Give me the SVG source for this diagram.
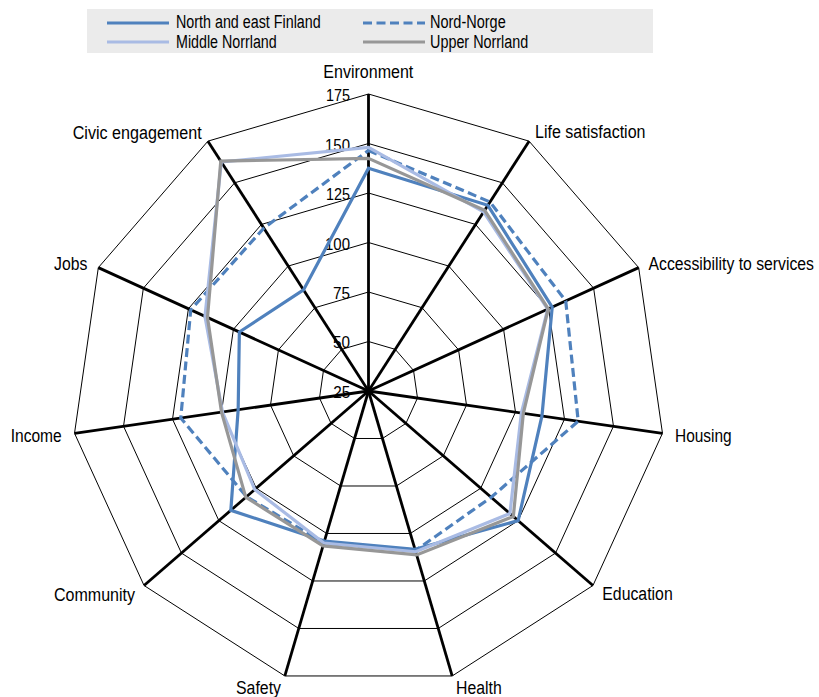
<svg xmlns="http://www.w3.org/2000/svg" width="819" height="697" viewBox="0 0 819 697">
<style>
text{font-family:"Liberation Sans Narrow","Liberation Sans",Arial,sans-serif;font-size:18px;fill:#000}
.num{font-size:17px}
.spoke{stroke:#000;stroke-width:2.8}
.s{fill:none;stroke-width:3.2;stroke-linejoin:miter}
.nef{stroke:#4F81BD}
.nn{stroke:#4F81BD;stroke-dasharray:9,4.5}
.mn{stroke:#A9BBE4}
.un{stroke:#979797}
</style>
<defs>
<polygon id="u" fill="none" stroke="#000" stroke-width="1" vector-effect="non-scaling-stroke" points="0,-100 54.064,-84.125 90.963,-41.542 98.982,14.231 75.575,65.486 28.173,95.949 -28.173,95.949 -75.575,65.486 -98.982,14.231 -90.963,-41.542 -54.064,-84.125"/>
</defs>
<rect x="0" y="0" width="819" height="697" fill="#fff"/>
<g id="legend">
<rect x="87" y="9" width="566" height="44" fill="#EBEBEB"/>
<line class="s nef" x1="107" y1="23" x2="169" y2="23"/>
<line class="s mn" x1="107" y1="42" x2="169" y2="42"/>
<line class="s nn" x1="363" y1="23" x2="425" y2="23"/>
<line class="s un" x1="363" y1="42" x2="425" y2="42"/>
<text x="176" y="28.3" textLength="144.7" lengthAdjust="spacingAndGlyphs">North and east Finland</text>
<text x="176" y="48.3" textLength="100.7" lengthAdjust="spacingAndGlyphs">Middle Norrland</text>
<text x="430" y="28.3" textLength="75.7" lengthAdjust="spacingAndGlyphs">Nord-Norge</text>
<text x="430" y="48.3" textLength="98.3" lengthAdjust="spacingAndGlyphs">Upper Norrland</text>
</g>
<g id="grid" transform="translate(368.5,391)">
<use href="#u" transform="scale(0.495)"/>
<use href="#u" transform="scale(0.99)"/>
<use href="#u" transform="scale(1.485)"/>
<use href="#u" transform="scale(1.98)"/>
<use href="#u" transform="scale(2.475)"/>
<use href="#u" transform="scale(2.97)"/>
<g id="spokes">
<line class="spoke" x1="0" y1="0" x2="0" y2="-297"/>
<line class="spoke" x1="0" y1="0" x2="160.57" y2="-249.85"/>
<line class="spoke" x1="0" y1="0" x2="270.16" y2="-123.38"/>
<line class="spoke" x1="0" y1="0" x2="293.98" y2="42.27"/>
<line class="spoke" x1="0" y1="0" x2="224.46" y2="194.49"/>
<line class="spoke" x1="0" y1="0" x2="83.67" y2="284.97"/>
<line class="spoke" x1="0" y1="0" x2="-83.67" y2="284.97"/>
<line class="spoke" x1="0" y1="0" x2="-224.46" y2="194.49"/>
<line class="spoke" x1="0" y1="0" x2="-293.98" y2="42.27"/>
<line class="spoke" x1="0" y1="0" x2="-270.16" y2="-123.38"/>
<line class="spoke" x1="0" y1="0" x2="-160.57" y2="-249.85"/>
</g>
</g>
<g id="scale">
<text class="num" x="326" y="100.8" textLength="24" lengthAdjust="spacingAndGlyphs">175</text>
<text class="num" x="325" y="151" textLength="25" lengthAdjust="spacingAndGlyphs">150</text>
<text class="num" x="326" y="200" textLength="24" lengthAdjust="spacingAndGlyphs">125</text>
<text class="num" x="325" y="249.5" textLength="25" lengthAdjust="spacingAndGlyphs">100</text>
<text class="num" x="333" y="298.5" textLength="17" lengthAdjust="spacingAndGlyphs">75</text>
<text class="num" x="333" y="348" textLength="17" lengthAdjust="spacingAndGlyphs">50</text>
<text class="num" x="333.3" y="398" textLength="17" lengthAdjust="spacingAndGlyphs">25</text>
</g>
<g id="series" transform="translate(368.5,391)">
<polygon class="s nef" points="0,-222.75 119.36,-185.72 183.71,-83.90 173.45,24.94 149.64,129.66 46.47,158.25 -44.07,150.08 -137.67,119.29 -130.33,18.74 -129.14,-58.98 -64.98,-101.11"/>
<polygon class="s nn" points="0,-240.57 121.50,-189.05 197.22,-90.07 209.70,30.15 122.70,106.32 46.86,159.58 -44.63,151.98 -121.96,105.68 -187.75,26.99 -177.77,-81.18 -104.69,-162.90"/>
<polygon class="s mn" points="0,-243.54 115.08,-179.06 179.21,-81.84 152.87,21.98 141.41,122.53 47.19,160.73 -44.63,151.98 -113.73,98.54 -146.01,20.99 -163.53,-74.68 -147.19,-229.03"/>
<polygon class="s un" points="0,-232.65 116.15,-180.73 179.74,-82.09 154.83,22.26 144.85,125.51 48.14,163.95 -45.46,154.83 -122.70,106.32 -146.99,21.13 -161.01,-73.53 -147.72,-229.86"/>
</g>
<g id="axis-labels">
<text x="323.3" y="78.3" textLength="90" lengthAdjust="spacingAndGlyphs">Environment</text>
<text x="535" y="138.3" textLength="110.5" lengthAdjust="spacingAndGlyphs">Life satisfaction</text>
<text x="648.5" y="269.5" textLength="165.5" lengthAdjust="spacingAndGlyphs">Accessibility to services</text>
<text x="675" y="441.7" textLength="56.7" lengthAdjust="spacingAndGlyphs">Housing</text>
<text x="602.3" y="600" textLength="70.4" lengthAdjust="spacingAndGlyphs">Education</text>
<text x="456" y="694" textLength="45.7" lengthAdjust="spacingAndGlyphs">Health</text>
<text x="236" y="694" textLength="45" lengthAdjust="spacingAndGlyphs">Safety</text>
<text x="54" y="601" textLength="81" lengthAdjust="spacingAndGlyphs">Community</text>
<text x="10.7" y="441.7" textLength="51" lengthAdjust="spacingAndGlyphs">Income</text>
<text x="54" y="270" textLength="33.3" lengthAdjust="spacingAndGlyphs">Jobs</text>
<text x="72.7" y="139.3" textLength="129" lengthAdjust="spacingAndGlyphs">Civic engagement</text>
</g>
</svg>
